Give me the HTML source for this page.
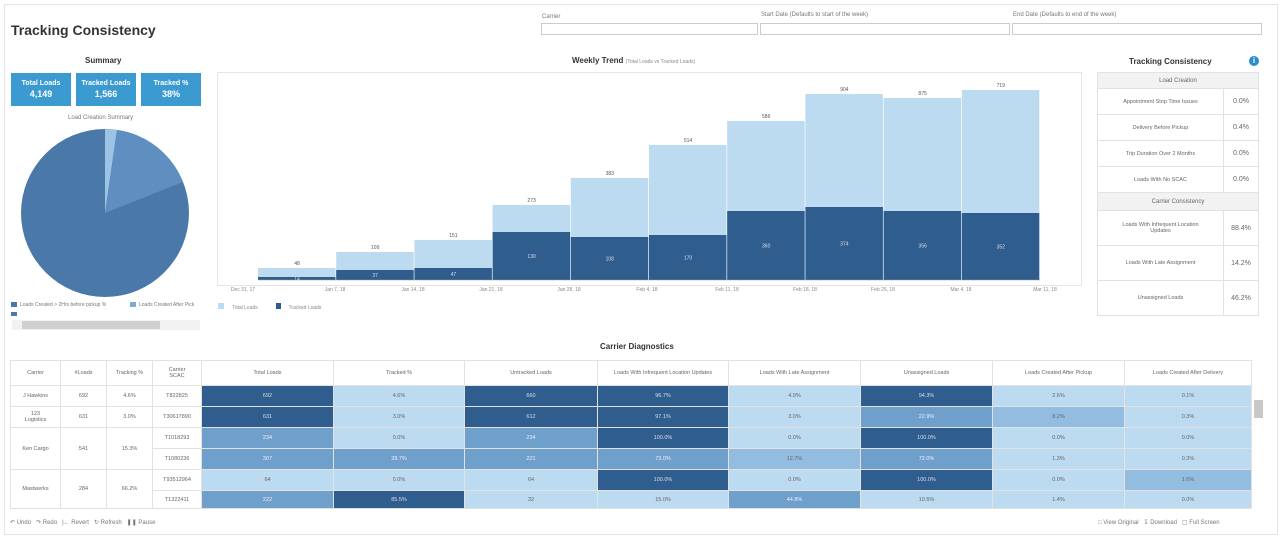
<!DOCTYPE html><html><head><meta charset="utf-8"><style>
body{margin:0;width:1280px;height:537px;background:#fff;font-family:"Liberation Sans",sans-serif;position:relative;overflow:hidden;color:#555}
.a{position:absolute}
.t{font-size:6px;color:#777;white-space:nowrap}
.kpi{position:absolute;top:73px;width:60px;height:33px;background:#3b9bd1;color:#fff;font-size:7px;font-weight:bold;text-align:center;line-height:11px;padding-top:5px;box-sizing:border-box}
.kpi b{font-size:9px}
table{border-collapse:collapse}
td{border:1px solid #e2e2e2;font-size:5.5px;color:#666;text-align:center;padding:0}
.D{background:#2f5e8e;color:#dde}.M{background:#6f9fcb;color:#eef}.L{background:#bcdaf0}.ML{background:#93bde0}
</style></head><body>
<div class="a" style="left:4px;top:4px;width:1272px;height:529px;border:1px solid #e4e4e4"></div>
<div class="a" style="left:11px;top:22px;font-size:14px;font-weight:bold;color:#333">Tracking Consistency</div>
<div class="a t" style="left:542px;top:14px">Carrier</div>
<div class="a" style="left:541px;top:23px;width:215px;height:10px;border:1px solid #ccc"></div>
<div class="a t" style="left:761px;top:12px">Start Date (Defaults to start of the week)</div>
<div class="a" style="left:760px;top:23px;width:248px;height:10px;border:1px solid #ccc"></div>
<div class="a t" style="left:1013px;top:12px">End Date (Defaults to end of the week)</div>
<div class="a" style="left:1012px;top:23px;width:248px;height:10px;border:1px solid #ccc"></div>
<div class="a" style="left:85px;top:56px;font-size:8px;font-weight:bold;color:#333">Summary</div>
<div class="kpi" style="left:11px">Total Loads<br><b>4,149</b></div>
<div class="kpi" style="left:76px">Tracked Loads<br><b>1,566</b></div>
<div class="kpi" style="left:141px">Tracked %<br><b>38%</b></div>
<div class="a t" style="left:68px;top:115px">Load Creation Summary</div>
<svg class="a" style="left:0;top:0" width="220" height="340">
<circle cx="105" cy="213" r="84" fill="#4a78a8"/>
<path d="M105 213 L105 129 A84 84 0 0 1 117 130 Z" fill="#9cc3e4"/>
<path d="M105 213 L117 130 A84 84 0 0 1 183 182 Z" fill="#5e8fc0"/>
<rect x="11" y="302" width="6" height="5" fill="#4a78a8"/><rect x="130" y="302" width="6" height="5" fill="#7aaad6"/>
<rect x="11" y="312" width="6" height="4" fill="#4a78a8"/>
<rect x="12" y="320" width="188" height="10" fill="#f2f2f2"/><rect x="22" y="321" width="138" height="8" fill="#cfcfcf"/>
</svg>
<div class="a t" style="left:20px;top:302px;font-size:5px">Loads Created &gt; 2Hrs before pickup %</div>
<div class="a t" style="left:139px;top:302px;font-size:5px">Loads Created After Pick</div>
<div class="a" style="left:572px;top:56px;font-size:8px;font-weight:bold;color:#333">Weekly Trend <span style="font-weight:normal;font-size:5px;color:#888">(Total Loads vs Tracked Loads)</span></div>
<div class="a" style="left:217px;top:72px;width:863px;height:212px;border:1px solid #e6e6e6"></div>
<svg class="a" style="left:0;top:0" width="1090" height="320" font-family="Liberation Sans" font-size="5" text-anchor="middle">
<g id="bars"></g>
<line x1="258" y1="280" x2="1040" y2="280" stroke="#999" stroke-width="0.5"/>
<g fill="#888"><text x="243" y="291">Dec 31, 17</text><text x="335" y="291">Jan 7, 18</text><text x="413" y="291">Jan 14, 18</text><text x="491" y="291">Jan 21, 18</text><text x="569" y="291">Jan 28, 18</text><text x="647" y="291">Feb 4, 18</text><text x="727" y="291">Feb 11, 18</text><text x="805" y="291">Feb 18, 18</text><text x="883" y="291">Feb 25, 18</text><text x="961" y="291">Mar 4, 18</text><text x="1045" y="291">Mar 11, 18</text></g>
<rect x="218" y="303" width="6" height="6" fill="#bcdaf0"/><text x="245" y="309" fill="#888">Total Loads</text>
<rect x="276" y="303" width="5" height="6" fill="#2f5e8e"/><text x="305" y="309" fill="#888">Tracked Loads</text>
</svg>
<script>
var tot=[[268,48],[252,109],[240,151],[205,273],[178,383],[145,514],[121,586],[94,904],[98,875],[90,719]];
var tr=[[277,14],[270,37],[268,47],[232,130],[237,108],[235,170],[211,360],[207,374],[211,356],[213,352]];
var s='';for(var i=0;i<10;i++){var x=258+i*78.2;
s+='<rect x="'+x+'" y="'+tot[i][0]+'" width="77.5" height="'+(280-tot[i][0])+'" fill="#bcdaf0"/>';
s+='<rect x="'+x+'" y="'+tr[i][0]+'" width="77.5" height="'+(280-tr[i][0])+'" fill="#2f5e8e"/>';
s+='<text x="'+(x+39)+'" y="'+(tot[i][0]-3)+'" fill="#555">'+tot[i][1]+'</text>';
s+='<text x="'+(x+39)+'" y="'+((tr[i][0]+280)/2+2)+'" fill="#dde">'+tr[i][1]+'</text>';}
document.getElementById('bars').innerHTML=s;
</script>
<div class="a" style="left:1129px;top:57px;font-size:8px;font-weight:bold;color:#333">Tracking Consistency</div>
<div class="a" style="left:1249px;top:56px;width:10px;height:10px;border-radius:50%;background:#2a8ccc;color:#fff;font-size:8px;text-align:center;line-height:10px;font-weight:bold">i</div>
<table class="a" style="left:1097px;top:72px;width:162px">
<tr><td colspan="2" style="height:15px;background:#f2f2f2;font-size:6px">Load Creation</td></tr>
<tr><td style="height:25px">Appointment Stop Time Issues</td><td style="width:34px;font-size:7px">0.0%</td></tr>
<tr><td style="height:25px">Delivery Before Pickup</td><td style="font-size:7px">0.4%</td></tr>
<tr><td style="height:25px">Trip Duration Over 2 Months</td><td style="font-size:7px">0.0%</td></tr>
<tr><td style="height:25px">Loads With No SCAC</td><td style="font-size:7px">0.0%</td></tr>
<tr><td colspan="2" style="height:17px;background:#f2f2f2;font-size:6px">Carrier Consistency</td></tr>
<tr><td style="height:34px">Loads With Infrequent Location<br>Updates</td><td style="font-size:7px">88.4%</td></tr>
<tr><td style="height:34px">Loads With Late Assignment</td><td style="font-size:7px">14.2%</td></tr>
<tr><td style="height:34px">Unassigned Loads</td><td style="font-size:7px">46.2%</td></tr>
</table>
<div class="a" style="left:600px;top:342px;font-size:8px;font-weight:bold;color:#333">Carrier Diagnostics</div>
<table class="a" style="left:10px;top:360px;table-layout:fixed;width:1241px">
<colgroup><col style="width:50px"><col style="width:46px"><col style="width:46px"><col style="width:49px"><col style="width:132px"><col style="width:131px"><col style="width:133px"><col style="width:131px"><col style="width:132px"><col style="width:132px"><col style="width:132px"><col style="width:127px"></colgroup>
<tr style="height:25px"><td>Carrier</td><td>#Loads</td><td>Tracking %</td><td>Carrier<br>SCAC</td><td>Total Loads</td><td>Tracked %</td><td>Untracked Loads</td><td>Loads With Infrequent Location Updates</td><td>Loads With Late Assignment</td><td>Unassigned Loads</td><td>Loads Created After Pickup</td><td>Loads Created After Delivery</td></tr>
<tr style="height:21px"><td>J Hawkins</td><td>692</td><td>4.6%</td><td>T822825</td><td class="D">692</td><td class="L">4.6%</td><td class="D">660</td><td class="D">96.7%</td><td class="L">4.9%</td><td class="D">94.3%</td><td class="L">2.6%</td><td class="L">0.1%</td></tr>
<tr style="height:21px"><td>123<br>Logistics</td><td>631</td><td>3.0%</td><td>T30617890</td><td class="D">631</td><td class="L">3.0%</td><td class="D">612</td><td class="D">97.1%</td><td class="L">3.0%</td><td class="M">22.9%</td><td class="ML">8.2%</td><td class="L">0.3%</td></tr>
<tr style="height:21px"><td rowspan="2">Ken Cargo</td><td rowspan="2">541</td><td rowspan="2">15.3%</td><td>T1018293</td><td class="M">234</td><td class="L">0.0%</td><td class="M">234</td><td class="D">100.0%</td><td class="L">0.0%</td><td class="D">100.0%</td><td class="L">0.0%</td><td class="L">0.0%</td></tr>
<tr style="height:21px"><td>T1080236</td><td class="M">307</td><td class="M">28.7%</td><td class="M">221</td><td class="M">73.0%</td><td class="ML">12.7%</td><td class="M">72.0%</td><td class="L">1.3%</td><td class="L">0.3%</td></tr>
<tr style="height:21px"><td rowspan="2">Mastwerks</td><td rowspan="2">284</td><td rowspan="2">66.2%</td><td>T93512964</td><td class="L">64</td><td class="L">0.0%</td><td class="L">64</td><td class="D">100.0%</td><td class="L">0.0%</td><td class="D">100.0%</td><td class="L">0.0%</td><td class="ML">1.6%</td></tr>
<tr style="height:18px"><td>T1322411</td><td class="M">222</td><td class="D">85.5%</td><td class="L">32</td><td class="L">15.0%</td><td class="M">44.8%</td><td class="L">10.5%</td><td class="L">1.4%</td><td class="L">0.0%</td></tr>
</table>
<div class="a" style="left:1254px;top:400px;width:9px;height:18px;background:#c8c8c8"></div>
<div class="a t" style="left:10px;top:519px">&#8630; Undo &nbsp; &#8631; Redo &nbsp; |&#8592; Revert &nbsp; &#8635; Refresh &nbsp; &#10074;&#10074; Pause</div>
<div class="a t" style="left:1098px;top:519px">&#9633; View Original &nbsp; &#8615; Download &nbsp; &#9634; Full Screen</div>
</body></html>
